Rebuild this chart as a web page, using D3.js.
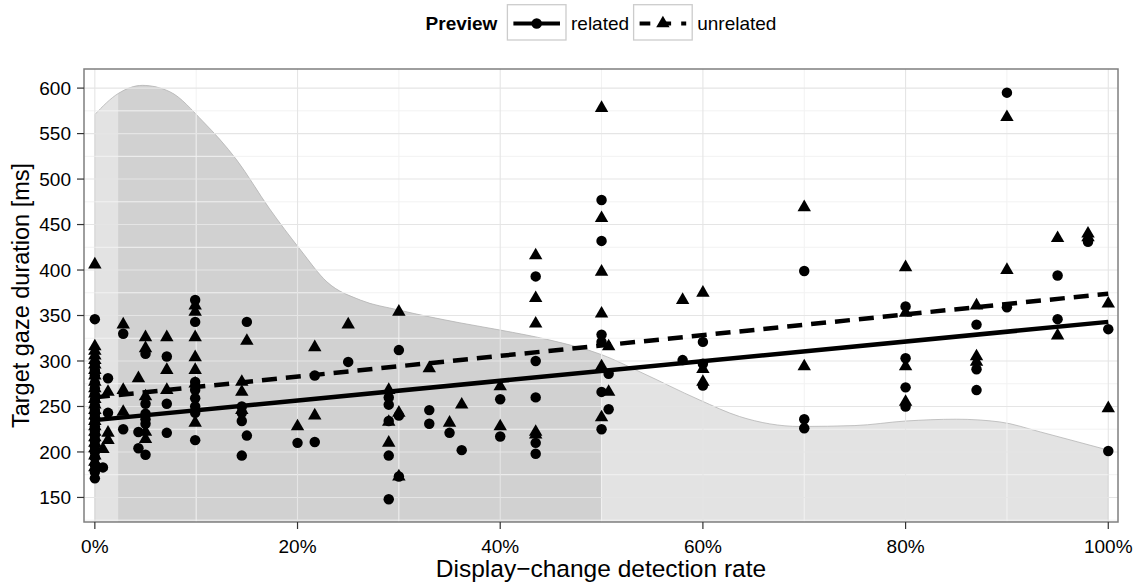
<!DOCTYPE html>
<html lang="en">
<head>
<meta charset="UTF-8">
<title>Target gaze duration by display-change detection rate</title>
<style>
    body { margin: 0; background: #fff; }
    svg text { font-family: "Liberation Sans", Arial, Helvetica, sans-serif; fill: #000; }
</style>
</head>
<body>
<svg width="1142" height="583"></svg>
<script src="https://d3js.org/d3.v7.min.js"></script>
<script>
// axis ticks
var rateTicks = [0, 0.2, 0.4, 0.6, 0.8, 1];
var rateMinor = [0.1, 0.3, 0.5, 0.7, 0.9];
var msTicks = [150, 200, 250, 300, 350, 400, 450, 500, 550, 600];
var msMinor = [125, 175, 225, 275, 325, 375, 425, 475, 525, 575];

// density backdrop (rate -> height in ms units)
var densityRate = [0, 0.023, 0.047, 0.074, 0.107, 0.14, 0.172, 0.203, 0.229, 0.262, 0.30, 0.36, 0.40, 0.449, 0.50, 0.538, 0.597, 0.636, 0.696, 0.75, 0.80, 0.85, 0.893, 0.933, 0.97, 1.0];
var densityMs = [571, 594, 603, 596, 563, 521, 468, 422, 387, 367, 356, 342, 334, 323, 307, 288, 257, 239, 228, 229, 234, 236, 233, 222, 211, 202];
var darkBand = [0.023, 0.5];

// fitted lines: value at 0% and at 100%
var fitRate = [0, 1];
var relatedFit = [235, 343];
var unrelatedFit = [260, 374];

// [detection rate, gaze duration]
var relatedPoints = [
    [0, 346], [0, 297], [0, 290], [0, 284], [0, 276], [0, 270], [0, 263], [0, 257], [0, 251], [0, 246],
    [0, 241], [0, 237], [0, 232], [0, 228], [0, 223], [0, 218], [0, 212], [0, 206], [0, 200], [0, 194],
    [0, 186], [0, 178], [0, 171],
    [0.008, 183], [0.013, 281], [0.013, 243], [0.028, 330], [0.028, 225], [0.043, 222], [0.043, 204],
    [0.05, 308], [0.05, 253], [0.05, 242], [0.05, 236], [0.05, 231], [0.05, 197],
    [0.071, 305], [0.071, 253], [0.071, 221],
    [0.099, 367], [0.099, 343], [0.099, 277], [0.099, 268], [0.099, 259], [0.099, 250], [0.099, 243], [0.099, 213],
    [0.145, 250], [0.145, 243], [0.145, 234], [0.145, 196], [0.15, 343], [0.15, 218],
    [0.20, 210], [0.217, 284], [0.217, 211], [0.25, 299],
    [0.29, 260], [0.29, 252], [0.29, 234], [0.29, 196], [0.29, 148],
    [0.30, 312], [0.30, 240], [0.30, 173], [0.33, 246], [0.33, 231], [0.35, 221], [0.362, 202],
    [0.40, 258], [0.40, 217],
    [0.435, 393], [0.435, 300], [0.435, 260], [0.435, 210], [0.435, 198],
    [0.50, 477], [0.50, 432], [0.50, 329], [0.50, 321], [0.50, 266], [0.50, 225], [0.507, 286], [0.507, 247],
    [0.58, 301], [0.60, 321], [0.60, 297], [0.60, 273],
    [0.70, 399], [0.70, 236], [0.70, 226],
    [0.80, 360], [0.80, 303], [0.80, 271], [0.80, 250],
    [0.87, 340], [0.87, 291], [0.87, 268],
    [0.90, 595], [0.90, 359], [0.95, 394], [0.95, 346], [0.98, 431],
    [1.0, 335], [1.0, 201]
];

var unrelatedPoints = [
    [0, 406], [0, 316], [0, 311], [0, 306], [0, 301], [0, 296], [0, 290], [0, 284], [0, 277], [0, 270],
    [0, 264], [0, 258], [0, 252], [0, 246], [0, 240], [0, 234], [0, 228], [0, 222], [0, 216], [0, 210],
    [0, 204], [0, 196], [0, 189], [0, 183],
    [0.008, 203], [0.013, 266], [0.013, 221], [0.013, 213], [0.028, 340], [0.028, 268], [0.028, 244],
    [0.043, 281], [0.05, 326], [0.05, 314], [0.05, 261], [0.05, 222], [0.05, 214],
    [0.071, 326], [0.071, 290], [0.071, 268],
    [0.099, 361], [0.099, 354], [0.099, 326], [0.099, 304], [0.099, 290], [0.099, 275], [0.099, 232],
    [0.145, 277], [0.145, 266], [0.145, 246], [0.15, 322],
    [0.20, 228], [0.217, 315], [0.217, 240], [0.25, 340],
    [0.29, 268], [0.29, 233], [0.29, 210], [0.30, 354], [0.30, 243], [0.30, 173],
    [0.33, 292], [0.35, 232], [0.362, 252], [0.40, 272], [0.40, 228],
    [0.435, 416], [0.435, 369], [0.435, 341], [0.435, 222], [0.435, 219],
    [0.50, 578], [0.50, 457], [0.50, 398], [0.50, 352], [0.50, 294], [0.50, 238], [0.507, 316], [0.507, 266],
    [0.58, 367], [0.60, 375], [0.60, 291], [0.60, 277],
    [0.70, 469], [0.70, 294],
    [0.80, 403], [0.80, 353], [0.80, 294], [0.80, 255],
    [0.87, 361], [0.87, 305], [0.87, 299],
    [0.90, 568], [0.90, 400], [0.95, 435], [0.95, 328], [0.98, 440], [0.98, 436],
    [1.0, 363], [1.0, 248]
];

var svg = d3.select("svg");

// panel box
var panel = { left: 84, right: 1118, top: 69, bottom: 522 };

var x = d3.scaleLinear().domain([-0.0107, 1.0096]).range([panel.left, panel.right]);
var y = d3.scaleLinear().domain([123, 621]).range([panel.bottom, panel.top]);

var circle = d3.symbol().type(d3.symbolCircle).size(86);
var triangle = d3.symbol().type(d3.symbolTriangle).size(78);

svg.append("defs").append("clipPath")
    .attr("id", "band")
    .append("rect")
    .attr("x", x(darkBand[0]))
    .attr("y", panel.top)
    .attr("width", x(darkBand[1]) - x(darkBand[0]))
    .attr("height", panel.bottom - panel.top);

svg.append("defs").append("clipPath")
    .attr("id", "panelClip")
    .append("rect")
    .attr("x", panel.left).attr("y", panel.top)
    .attr("width", panel.right - panel.left).attr("height", panel.bottom - panel.top);

var plot = svg.append("g").attr("clip-path", "url(#panelClip)");

// density backdrop
var density = densityRate.map(function (r, i) { return [r, densityMs[i]]; });
var area = d3.area()
    .x(function (d) { return x(d[0]); })
    .y0(panel.bottom + 2)
    .y1(function (d) { return y(d[1]); })
    .curve(d3.curveMonotoneX);

plot.append("path").datum(density)
    .attr("d", area)
    .attr("fill", "#e3e3e3");

plot.append("path").datum(density)
    .attr("d", area)
    .attr("fill", "#d1d1d1")
    .attr("clip-path", "url(#band)");

plot.append("path").datum(density)
    .attr("d", area)
    .attr("fill", "none")
    .attr("stroke", "#b5b5b5")
    .attr("stroke-width", 0.8);

// grid
plot.selectAll(".minor-y").data(msMinor).enter().append("line")
    .attr("x1", panel.left).attr("x2", panel.right)
    .attr("y1", function (d) { return y(d); }).attr("y2", function (d) { return y(d); })
    .attr("stroke", "#f2f2f2").attr("stroke-width", 1);
plot.selectAll(".minor-x").data(rateMinor).enter().append("line")
    .attr("y1", panel.top).attr("y2", panel.bottom)
    .attr("x1", function (d) { return x(d); }).attr("x2", function (d) { return x(d); })
    .attr("stroke", "#f2f2f2").attr("stroke-width", 1);
plot.selectAll(".major-y").data(msTicks).enter().append("line")
    .attr("x1", panel.left).attr("x2", panel.right)
    .attr("y1", function (d) { return y(d); }).attr("y2", function (d) { return y(d); })
    .attr("stroke", "#e5e5e5").attr("stroke-width", 1.1);
plot.selectAll(".major-x").data(rateTicks).enter().append("line")
    .attr("y1", panel.top).attr("y2", panel.bottom)
    .attr("x1", function (d) { return x(d); }).attr("x2", function (d) { return x(d); })
    .attr("stroke", "#e5e5e5").attr("stroke-width", 1.1);

// points
plot.selectAll(".related").data(relatedPoints).enter().append("path")
    .attr("class", "related")
    .attr("d", circle)
    .attr("transform", function (d) { return "translate(" + x(d[0]) + "," + y(d[1]) + ")"; })
    .attr("fill", "#000");

plot.selectAll(".unrelated").data(unrelatedPoints).enter().append("path")
    .attr("class", "unrelated")
    .attr("d", triangle)
    .attr("transform", function (d) { return "translate(" + x(d[0]) + "," + y(d[1]) + ")"; })
    .attr("fill", "#000");

// fitted lines
var fitLine = d3.line()
    .x(function (d) { return x(d[0]); })
    .y(function (d) { return y(d[1]); });

plot.append("path")
    .datum(fitRate.map(function (r, i) { return [r, relatedFit[i]]; }))
    .attr("d", fitLine)
    .attr("fill", "none").attr("stroke", "#000").attr("stroke-width", 4.5);

plot.append("path")
    .datum(fitRate.map(function (r, i) { return [r, unrelatedFit[i]]; }))
    .attr("d", fitLine)
    .attr("fill", "none").attr("stroke", "#000").attr("stroke-width", 4.5)
    .attr("stroke-dasharray", "15,9");

// panel border
svg.append("rect")
    .attr("x", panel.left).attr("y", panel.top)
    .attr("width", panel.right - panel.left).attr("height", panel.bottom - panel.top)
    .attr("fill", "none").attr("stroke", "#7f7f7f").attr("stroke-width", 1.5);

// y axis
var yAxis = svg.append("g");
yAxis.selectAll("line").data(msTicks).enter().append("line")
    .attr("x1", panel.left - 7).attr("x2", panel.left)
    .attr("y1", function (d) { return y(d); }).attr("y2", function (d) { return y(d); })
    .attr("stroke", "#333").attr("stroke-width", 1.2);
yAxis.selectAll("text").data(msTicks).enter().append("text")
    .attr("x", panel.left - 13)
    .attr("y", function (d) { return y(d) + 6.8; })
    .attr("text-anchor", "end")
    .attr("font-size", 19)
    .text(function (d) { return d; });

// x axis
var xAxis = svg.append("g");
xAxis.selectAll("line").data(rateTicks).enter().append("line")
    .attr("y1", panel.bottom).attr("y2", panel.bottom + 7)
    .attr("x1", function (d) { return x(d); }).attr("x2", function (d) { return x(d); })
    .attr("stroke", "#333").attr("stroke-width", 1.2);
xAxis.selectAll("text").data(rateTicks).enter().append("text")
    .attr("x", function (d) { return x(d); })
    .attr("y", panel.bottom + 31)
    .attr("text-anchor", "middle")
    .attr("font-size", 19)
    .text(d3.format(".0%"));

// axis titles
svg.append("text")
    .attr("x", (panel.left + panel.right) / 2)
    .attr("y", 577)
    .attr("text-anchor", "middle")
    .attr("font-size", 24.5)
    .text("Display\u2212change detection rate");

svg.append("text")
    .attr("transform", "translate(29," + (panel.top + panel.bottom) / 2 + ") rotate(-90)")
    .attr("text-anchor", "middle")
    .attr("font-size", 23.5)
    .text("Target gaze duration [ms]");

// legend, laid out left to right and centred over the panel
var legend = svg.append("g").attr("class", "legend");
var keyW = 58.6, keyH = 35.3, keyTop = 4.7, keyMid = 23.5;

var title = legend.append("text")
    .attr("y", 30).attr("font-size", 19).attr("font-weight", "bold")
    .text("Preview");
var cursor = 0;
title.attr("x", cursor);
cursor += title.node().getComputedTextLength() + 10;

[
    { label: "related", symbol: circle, dash: null },
    { label: "unrelated", symbol: triangle, dash: "10.7,10.1" }
].forEach(function (k) {
    var g = legend.append("g").attr("transform", "translate(" + cursor + ",0)");
    g.append("rect")
        .attr("x", 0).attr("y", keyTop).attr("width", keyW).attr("height", keyH)
        .attr("fill", "#fff").attr("stroke", "#cccccc").attr("stroke-width", 1.3);
    g.append("line")
        .attr("x1", 6).attr("x2", keyW - 6).attr("y1", keyMid).attr("y2", keyMid)
        .attr("stroke", "#000").attr("stroke-width", 4)
        .attr("stroke-dasharray", k.dash);
    g.append("path")
        .attr("d", k.symbol)
        .attr("transform", "translate(" + keyW / 2 + "," + keyMid + ")")
        .attr("fill", "#000");
    cursor += keyW + 5;
    var t = legend.append("text")
        .attr("x", cursor).attr("y", 30).attr("font-size", 19)
        .text(k.label);
    cursor += t.node().getComputedTextLength() + 4.5;
});

legend.attr("transform", "translate(" + ((panel.left + panel.right) / 2 - (cursor - 4.5) / 2) + ",0)");
</script>
</body>
</html>
